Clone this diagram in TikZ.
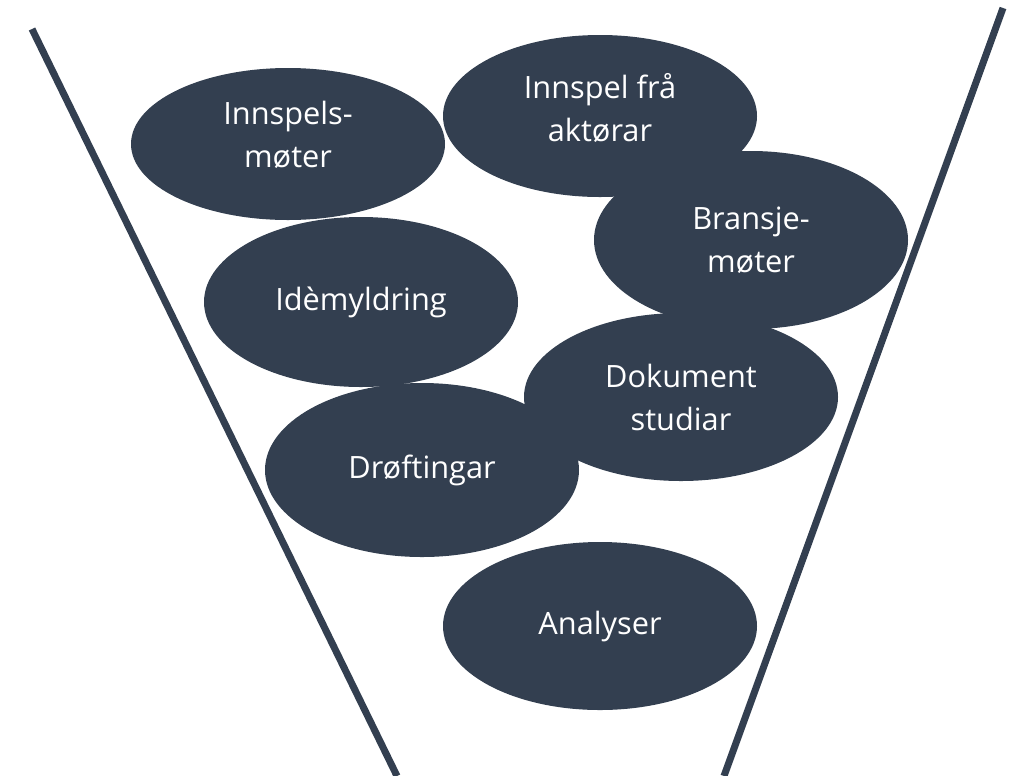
\documentclass[tikz,border=0pt]{standalone}
\usepackage{fontspec}
\setmainfont{Open Sans}
\usepackage{xcolor}
\usepackage{tikz}
\usetikzlibrary{shapes}
\usetikzlibrary{positioning}
\definecolor{funnelblue}{HTML}{333F50}
\tikzset{
  ideatext/.style = {text=white, align=center, inner sep=0pt,
    font=\fontsize{17.5}{24.5}\selectfont},% tekst i boble
  idea/.style = {ideatext, ellipse, fill=funnelblue, draw=none,
    minimum width=314\px, minimum height=166\px},% boble i trakta
  wall/.style = {draw=funnelblue, line width=7\px}% kant på trakta
}
\newlength{\px}
\setlength{\px}{0.02cm}

\begin{document}
\begin{tikzpicture}[x=0.02cm,y=-0.02cm]
\useasboundingbox (0,0) rectangle (1010,775);
% trakta
\coordinate (lt) at (32,29);
\coordinate (lb) at (397,776);
\coordinate (rt) at (1003,8);
\coordinate (rb) at (724,776);
\draw[wall] (lt) -- (lb);
\draw[wall] (rt) -- (rb);
% boblene
\node [idea, minimum height=152\px,
  label={[ideatext, yshift=9\px]center:{Innspels-\\møter}}] (mote) at (288,144) {};
\node [idea, minimum height=162\px,
  label={[ideatext, yshift=8\px]center:{Innspel frå\\aktørar}}] (aktor) at (600,116) {};
\node [idea, minimum height=178\px] (bransje) at (751,240) {Bransje-\\møter};
\node [idea, minimum height=170\px] (ide) at (361,302) {Idèmyldring};
\node [idea, minimum height=168\px] (dok) at (681,397) {Dokument\\studiar};
\node [idea, minimum height=174\px] (drof) at (422,470) {Drøftingar};
\node [idea, minimum height=168\px] (analyse) at (600,626) {Analyser};
\end{tikzpicture}
\end{document}
